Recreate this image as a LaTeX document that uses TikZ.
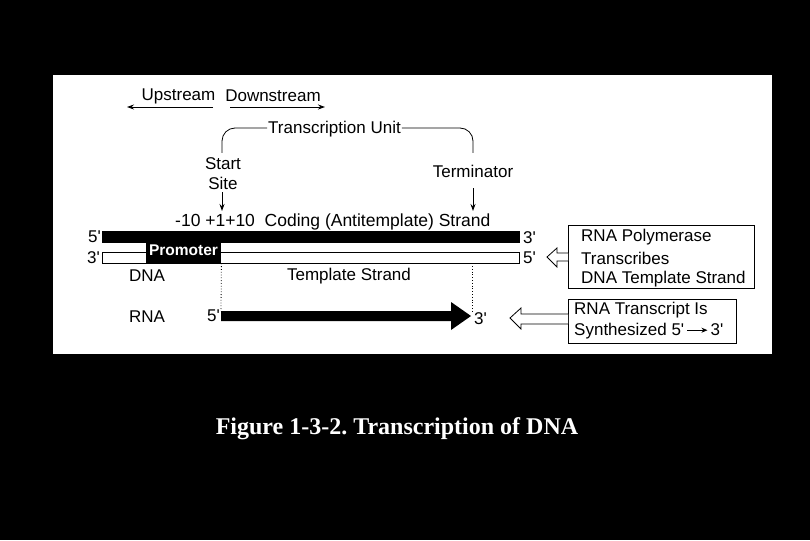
\documentclass[tikz,border=0pt]{standalone}
\usepackage{fontspec}
\setmainfont{Liberation Serif}
\setsansfont{Liberation Sans}
\usetikzlibrary{arrows.meta}
\newcommand{\pr}{\textquotesingle}
\begin{document}
\begin{tikzpicture}[x=1pt,y=-1pt,
  lab/.style={font=\fontsize{17}{20}\selectfont\sffamily, inner sep=0pt, text=black},
  thin line/.style={line width=0.8pt, black},
  arr/.style={line width=0.9pt, -{Stealth[length=7pt,width=5pt]}},
  infobox/.style={draw=black, line width=0.8pt, fill=white, inner sep=0pt, anchor=north west},
  hollow/.style={draw=black, line width=0.8pt, fill=white, line join=miter},
  dots/.style={line width=0.8pt, dotted, black}
]
\useasboundingbox (0,0) rectangle (810,540);
\fill[black] (0,0) rectangle (810,540);
\fill[white] (53,75) rectangle (772,354);

% Upstream / Downstream
\node[lab] (up) at (178.5,96) {Upstream};
\node[lab] (down) at (273,96) {Downstream};
\coordinate (upL) at (127,107);
\coordinate (upR) at (213,107);
\coordinate (dnL) at (230,107);
\coordinate (dnR) at (325,107);
\draw[arr] (upR) -- (upL);
\draw[arr] (dnL) -- (dnR);

% Transcription unit bracket
\node[lab] (tu) at (334.5,129) {Transcription Unit};
\node[lab, align=center] (ss) at (223,174) {Start\\Site};
\node[lab] (term) at (473,171) {Terminator};
\coordinate (ssTop) at (222,153);
\coordinate (termTop) at (473,153);
\draw[thin line, rounded corners=13pt] ([xshift=-1pt]tu.west |- 0,128) -| (ssTop);
\draw[thin line, rounded corners=13pt] ([xshift=1pt]tu.east |- 0,128) -| (termTop);

% arrows to strand
\coordinate (ssArr) at (222,211);
\coordinate (termArr) at (473,211);
\draw[arr] (222,192) -- (ssArr);
\draw[arr] (473,188) -- (termArr);

% coding label
\node[lab, font=\fontsize{17.5}{20}\selectfont\sffamily, anchor=west] (codlab) at (175,222) {-10 +1+10\ \ Coding (Antitemplate) Strand};

% strands
\node[fill=black, draw=black, minimum width=417pt, minimum height=11pt, inner sep=0pt, anchor=north west] (coding) at (102,231) {};
\node[fill=white, draw=black, line width=0.8pt, minimum width=417pt, minimum height=11pt, inner sep=0pt, anchor=north west] (template) at (102,252) {};
\node[fill=black, minimum width=75pt, minimum height=22pt, inner sep=0pt, anchor=north west] (prom) at (146,241) {};
\node[font=\fontsize{15.5}{18}\selectfont\sffamily\bfseries, text=white, inner sep=0pt] (promtxt) at (183.5,250) {Promoter};

\node[lab, anchor=east] (c5) at (101,237) {5\pr};
\node[lab, anchor=west] (c3) at (523,238) {3\pr};
\node[lab, anchor=east] (t3) at (100,258) {3\pr};
\node[lab, anchor=west] (t5) at (523,258) {5\pr};

\node[lab] (dna) at (147,276) {DNA};
\node[lab] (tstr) at (349,276) {Template Strand};

% RNA
\node[lab] (rna) at (147,317) {RNA};
\node[lab, anchor=east] (r5) at (220,316) {5\pr};
\node[lab, anchor=west] (r3) at (474,319) {3\pr};
\fill[black] (221,311) -- (451,311) -- (451,302) -- (471,316) -- (451,330) -- (451,321) -- (221,321) -- cycle;
\coordinate (rnaStart) at (221,311);
\coordinate (rnaEnd) at (472,311);
\draw[dots] (prom.south east) -- (rnaStart);
\draw[dots] (472,266) -- (rnaEnd);

% info boxes
\node[infobox, minimum width=186pt, minimum height=63pt] (box1) at (568,225) {};
\node[lab, anchor=west] (b1a) at (581,237) {RNA Polymerase};
\node[lab, anchor=west] (b1b) at (581,258) {Transcribes};
\node[lab, anchor=west] (b1c) at (581,279) {DNA Template Strand};

\node[infobox, minimum width=168pt, minimum height=44pt] (box2) at (568,299) {};
\node[lab, anchor=west] (b2a) at (574,310) {RNA Transcript Is};
\node[lab, anchor=west] (b2b) at (574,331) {Synthesized 5\pr\,\raisebox{0.3ex}{\tikz[x=1pt,y=1pt]\draw[line width=0.8pt,-{Stealth[length=6pt,width=5pt]}] (0,0)--(20,0);}\,3\pr};

% hollow arrows
\draw[hollow] (box1.west |- 0,253) -- (557,253) -- (557,248) -- (547,257) -- (557,267) -- (557,261) -- (box1.west |- 0,261);
\draw[hollow] (box2.west |- 0,314) -- (521,314) -- (521,308) -- (510,318) -- (521,329) -- (521,324) -- (box2.west |- 0,324);

% caption
\node[font=\fontsize{24}{28}\selectfont\bfseries, text=white, inner sep=0pt] (cap) at (397,429) {\frenchspacing Figure 1-3-2. Transcription of DNA};
\end{tikzpicture}
\end{document}
